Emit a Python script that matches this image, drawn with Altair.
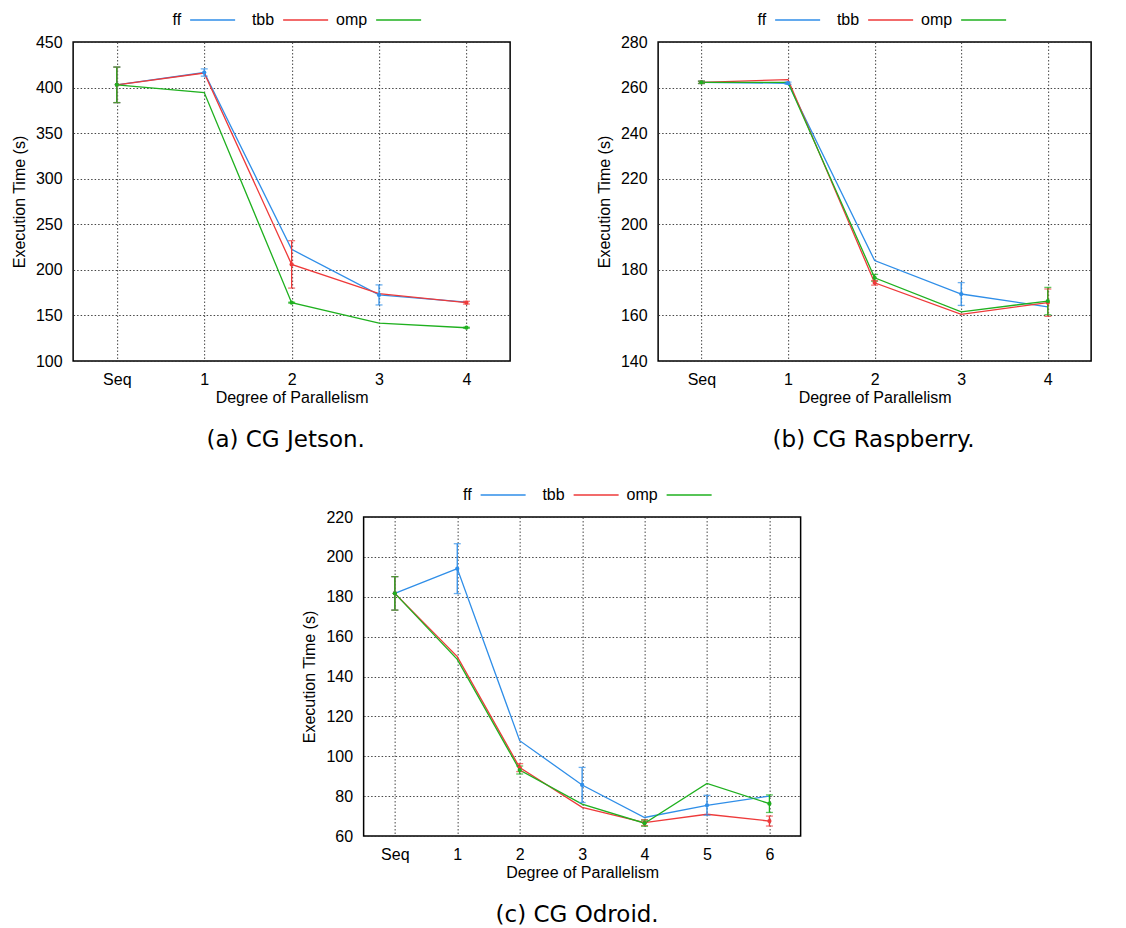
import altair as alt
import pandas as pd

series_names = ["ff", "tbb", "omp"]
series_colors = ["#2f8ee8", "#ee3a3a", "#1fb01f"]

# (a) CG Jetson
jetson_cats = ["Seq", "1", "2", "3", "4"]
jetson_ff = [403, 416.5, 222.5, 172.5, 164.5]
jetson_ff_err = [19.5, 4, 0, 11, 0]
jetson_tbb = [403, 416, 206, 174, 164]
jetson_tbb_err = [19.5, 0, 26, 0, 1.5]
jetson_omp = [403, 394.5, 164, 141.5, 136.5]
jetson_omp_err = [19.5, 0, 0.5, 0, 0.5]

# (b) CG Raspberry
rasp_cats = ["Seq", "1", "2", "3", "4"]
rasp_ff = [262.3, 261.9, 184.1, 169.4, 163.8]
rasp_ff_err = [0.5, 0.5, 0, 5, 0]
rasp_tbb = [262.3, 263.5, 174.3, 160.5, 165.6]
rasp_tbb_err = [0.5, 0, 1, 0, 6]
rasp_omp = [262.3, 262.3, 176.5, 161.6, 166.3]
rasp_omp_err = [0.5, 0, 1.5, 0, 6]

# (c) CG Odroid
odroid_cats = ["Seq", "1", "2", "3", "4", "5", "6"]
odroid_ff = [181.7, 194.1, 107.8, 85.6, 69.3, 75.4, 80]
odroid_ff_err = [8.4, 12.5, 0, 8.8, 0, 5, 0]
odroid_tbb = [181.7, 150, 94.3, 74.4, 66.7, 70.9, 67.5]
odroid_tbb_err = [8.4, 0, 2, 0, 1.5, 0, 2.5]
odroid_omp = [181.7, 148.6, 93.1, 76, 66.4, 86.4, 76.2]
odroid_omp_err = [8.4, 0, 2, 0, 1.5, 0, 4.4]

FONT = "Liberation Sans"


def panel(cats, vals, errs, ydomain, yticks, width, height, caption, cap_dx):
    rows = []
    for s, v, e in zip(series_names, vals, errs):
        for c, vv, ee in zip(cats, v, e):
            rows.append({"cat": c, "series": s, "value": vv, "err": ee,
                         "lo": vv - ee, "hi": vv + ee})
    df = pd.DataFrame(rows)
    base = alt.Chart(df)
    x = alt.X("cat:O", sort=cats, scale=alt.Scale(type="point", padding=0.5),
              axis=alt.Axis(title="Degree of Parallelism", labelAngle=0,
                            labelPadding=10, titlePadding=2))
    y_axis = alt.Axis(title="Execution Time (s)", values=yticks, labelPadding=11,
                      titlePadding=8, format="d", labelOverlap=False)
    yscale = alt.Scale(domain=ydomain, nice=False, zero=False)

    def Y(field):
        return alt.Y(field, scale=yscale, axis=y_axis)

    color = alt.Color("series:N", scale=alt.Scale(domain=series_names, range=series_colors),
                      legend=None)
    lines = base.mark_line(strokeWidth=1.3).encode(x=x, y=Y("value:Q"), color=color)
    eb = base.transform_filter("datum.err > 0")
    bars = eb.mark_rule(strokeWidth=1.3).encode(x=x, y=Y("lo:Q"), y2="hi:Q", color=color)
    cap_lo = eb.mark_tick(size=7, thickness=1.3, orient="horizontal").encode(
        x=x, y=Y("lo:Q"), color=color)
    cap_hi = eb.mark_tick(size=7, thickness=1.3, orient="horizontal").encode(
        x=x, y=Y("hi:Q"), color=color)
    pts = eb.mark_circle(size=18, opacity=1).encode(x=x, y=Y("value:Q"), color=color)
    layers = [lines, bars, cap_lo, cap_hi, pts]
    # legend (gnuplot style: label then line sample)
    for i, (s, col) in enumerate(zip(series_names, series_colors)):
        ldf = pd.DataFrame({"name": [s]})
        layers.append(alt.Chart(ldf).mark_text(
            font=FONT, fontSize=16, align="right", baseline="middle", color="black").encode(
            x=alt.value(108 + 93 * i), y=alt.value(-22), text="name:N"))
        layers.append(alt.Chart(ldf).mark_rule(color=col, strokeWidth=1.3).encode(
            x=alt.value(117 + 93 * i), x2=alt.value(162 + 93 * i), y=alt.value(-22)))
    return alt.layer(*layers).properties(
        width=width, height=height,
        title=alt.TitleParams(caption, orient="bottom", font="DejaVu Sans", fontSize=23,
                              fontWeight="normal", color="black", offset=24,
                              anchor="middle", frame="group", dx=cap_dx))


pa = panel(jetson_cats, [jetson_ff, jetson_tbb, jetson_omp],
           [jetson_ff_err, jetson_tbb_err, jetson_omp_err],
           [100, 450], list(range(100, 451, 50)), 437, 319, "(a) CG Jetson.", -6)
pb = panel(rasp_cats, [rasp_ff, rasp_tbb, rasp_omp],
           [rasp_ff_err, rasp_tbb_err, rasp_omp_err],
           [140, 280], list(range(140, 281, 20)), 433, 319, "(b) CG Raspberry.", -1)
pc = panel(odroid_cats, [odroid_ff, odroid_tbb, odroid_omp],
           [odroid_ff_err, odroid_tbb_err, odroid_omp_err],
           [60, 220], list(range(60, 221, 20)), 437, 319, "(c) CG Odroid.", -5)

top = alt.hconcat(pa, pb, spacing=84)
chart = alt.vconcat(top, pc, spacing=33, center=True).properties(
    padding={"left": 10, "top": 11, "right": 0, "bottom": 0},
    background="white",
).configure_view(stroke="black", strokeWidth=1.5).configure_axis(
    grid=True, gridColor="#333333", gridDash=[1.5, 2], gridWidth=1, gridOpacity=0.9,
    domain=False, ticks=False,
    labelFont=FONT, labelFontSize=16, labelColor="black",
    titleFont=FONT, titleFontSize=16, titleFontWeight="normal", titleColor="black",
)

chart.save("out.html", embed_options={"renderer": "svg", "actions": False})
